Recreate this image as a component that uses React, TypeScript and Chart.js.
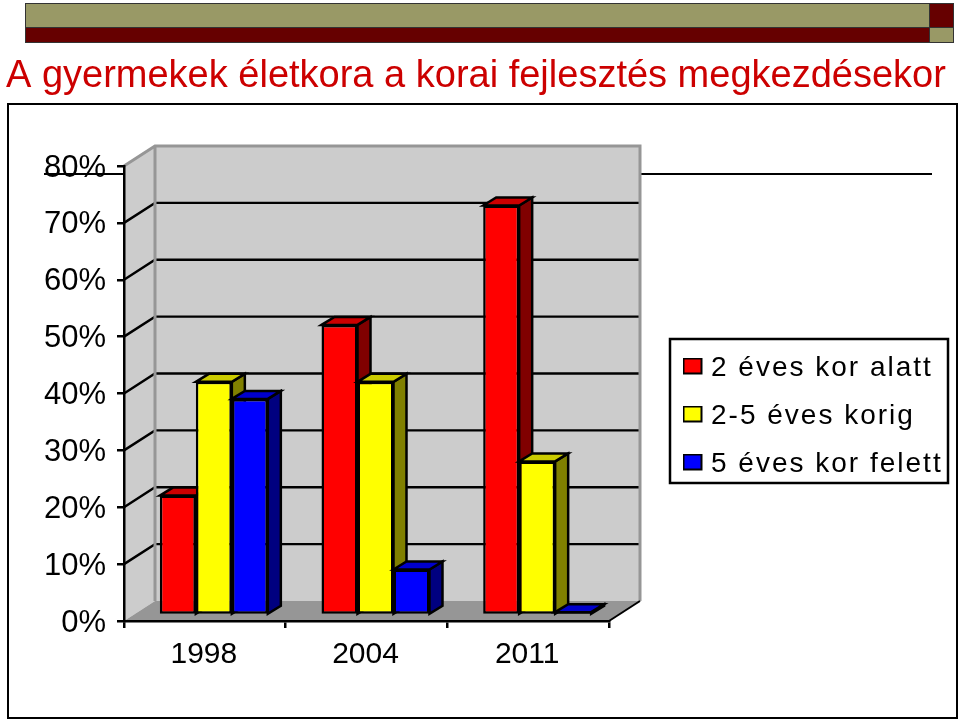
import React, { useEffect, useRef } from "react";
import { Chart, registerables } from "chart.js";

Chart.register(...registerables);

const titleText = "A gyermekek életkora a korai fejlesztés megkezdésekor";
const categories = ["1998", "2004", "2011"];
const under2 = [21, 51, 72];
const from2to5 = [41, 41, 27];
const over5 = [38, 8, 0.5];
const seriesNames = ["2 éves kor alatt", "2-5 éves korig", "5 éves kor felett"];
const yTicksMax = 80;
const yTickStep = 10;

const fontFamily = "'Liberation Sans', Arial, sans-serif";
const frontColors = ["#ff0000", "#ffff00", "#0000ff"];
const sideColors = ["#800000", "#808000", "#000080"];
const topColors = ["#cc0000", "#cccc00", "#0000cc"];

// 3D geometry, in pixels
const wallDx = 31;
const wallDy = 20;
const barShiftX = 9;
const barShiftY = 6;
const barDx = 13;
const barDy = 8;

function poly(ctx: CanvasRenderingContext2D, pts: number[][], fill: string | null, stroke: string | null, lw = 2.5) {
  ctx.beginPath();
  pts.forEach((p, i) => (i ? ctx.lineTo(p[0], p[1]) : ctx.moveTo(p[0], p[1])));
  ctx.closePath();
  if (fill) {
    ctx.fillStyle = fill;
    ctx.fill();
  }
  if (stroke) {
    ctx.strokeStyle = stroke;
    ctx.lineWidth = lw;
    ctx.lineJoin = "miter";
    ctx.stroke();
  }
}

function swatch(color: string) {
  const c = document.createElement("canvas");
  c.width = 22;
  c.height = 21;
  const g = c.getContext("2d")!;
  g.fillStyle = color;
  g.fillRect(1, 1, 18, 15);
  g.strokeStyle = "#000";
  g.lineWidth = 2;
  g.strokeRect(1, 1, 18, 15);
  return c;
}

const layoutPlugin = {
  id: "placeBoxes",
  beforeLayout(chart: any) {
    const l = chart.legend;
    if (l && !l.__fitWrapped) {
      l.__fitWrapped = true;
      const origFit = l.fit.bind(l);
      l.fit = () => {
        origFit();
        l.width = 351;
      };
      const orig = l.draw.bind(l);
      l.draw = () => {
        const ctx = chart.ctx;
        ctx.save();
        (ctx as any).letterSpacing = "2px";
        orig();
        ctx.restore();
      };
    }
  },
  afterLayout(chart: any) {
    const t = chart.titleBlock;
    if (t) {
      t.left = 6;
      t.right = 955;
    }
    const l = chart.legend;
    if (l) {
      l.left = 670;
      l.right = 948;
      l.top = 334;
      l.bottom = 560;
    }
  },
};

const stagePlugin = {
  id: "stage3d",
  beforeDraw(chart: any) {
    const ctx: CanvasRenderingContext2D = chart.ctx;
    const { left, right } = chart.chartArea;
    const y = chart.scales.y;
    const y0 = y.getPixelForValue(0);
    const yTop = y.getPixelForValue(yTicksMax);
    ctx.save();
    // back wall, left wall, floor
    poly(ctx, [[left + wallDx, yTop - wallDy], [right + wallDx, yTop - wallDy], [right + wallDx, y0 - wallDy], [left + wallDx, y0 - wallDy]], "#cccccc", null);
    poly(ctx, [[left, yTop], [left + wallDx, yTop - wallDy], [left + wallDx, y0 - wallDy], [left, y0]], "#cccccc", null);
    poly(ctx, [[left, y0], [left + wallDx, y0 - wallDy], [right + wallDx, y0 - wallDy], [right, y0]], "#969696", null);
    // grid lines over the walls
    ctx.strokeStyle = "#000";
    ctx.lineWidth = 2.4;
    for (let v = yTickStep; v < yTicksMax; v += yTickStep) {
      const py = y.getPixelForValue(v);
      ctx.beginPath();
      ctx.moveTo(left, py);
      ctx.lineTo(left + wallDx, py - wallDy);
      ctx.lineTo(right + wallDx, py - wallDy);
      ctx.stroke();
    }
    // wall edges
    ctx.strokeStyle = "#969696";
    ctx.lineWidth = 3;
    ctx.beginPath();
    ctx.moveTo(left, yTop);
    ctx.lineTo(left + wallDx, yTop - wallDy);
    ctx.lineTo(right + wallDx, yTop - wallDy);
    ctx.lineTo(right + wallDx, y0 - wallDy);
    ctx.moveTo(left + wallDx, yTop - wallDy);
    ctx.lineTo(left + wallDx, y0 - wallDy);
    ctx.stroke();
    // outer floor edge on the right
    ctx.strokeStyle = "#000";
    ctx.lineWidth = 2;
    ctx.beginPath();
    ctx.moveTo(right, y0);
    ctx.lineTo(right + wallDx, y0 - wallDy);
    ctx.stroke();
    // legend frame
    ctx.fillStyle = "#fff";
    ctx.fillRect(670, 339, 278, 144);
    ctx.strokeStyle = "#000";
    ctx.lineWidth = 2.5;
    ctx.strokeRect(670, 339, 278, 144);
    ctx.restore();
  },
  beforeDatasetsDraw(chart: any) {
    const ctx: CanvasRenderingContext2D = chart.ctx;
    ctx.save();
    ctx.translate(barShiftX, barShiftY * -1);
    categories.forEach((_, i) => {
      chart.data.datasets.forEach((_d: any, d: number) => {
        const bar = chart.getDatasetMeta(d).data[i];
        const { x, y, width, base } = bar.getProps(["x", "y", "width", "base"], true);
        const l = x - width / 2;
        const r = x + width / 2;
        poly(ctx, [[r, y], [r + barDx, y - barDy], [r + barDx, base - barDy], [r, base]], sideColors[d], "#000");
        poly(ctx, [[l, y], [l + barDx, y - barDy], [r + barDx, y - barDy], [r, y]], topColors[d], "#000");
        bar.draw(ctx);
      });
    });
    ctx.restore();
    return false;
  },
};

export default function App() {
  const ref = useRef<HTMLCanvasElement>(null);
  useEffect(() => {
    const chart = new Chart(ref.current!, {
      type: "bar",
      data: {
        labels: categories,
        datasets: [under2, from2to5, over5].map((data, i) => ({
          label: seriesNames[i],
          data,
          backgroundColor: frontColors[i],
          borderColor: "#000",
          borderWidth: 2.5,
          borderSkipped: false,
          categoryPercentage: 0.668,
          barPercentage: 1,
        })),
      },
      options: {
        responsive: false,
        animation: false,
        layout: { padding: 0 },
        plugins: {
          tooltip: { enabled: false },
          title: {
            display: true,
            text: titleText,
            align: "start",
            color: "#cc0000",
            font: { family: fontFamily, size: 38, weight: "normal", lineHeight: 1.2 },
            padding: { top: 54, bottom: 66.4 },
          },
          legend: {
            position: "right",
            align: "start",
            labels: {
              color: "#000",
              font: { family: fontFamily, size: 28 },
              usePointStyle: true,
              boxWidth: 7,
              boxHeight: 16,
              padding: 20,
              generateLabels: () =>
                seriesNames.map((text, i) => ({
                  text,
                  datasetIndex: i,
                  fontColor: "#000",
                  pointStyle: swatch(frontColors[i]),
                  lineWidth: 0,
                  strokeStyle: "#000",
                  fillStyle: frontColors[i],
                })),
            },
          },
        },
        scales: {
          x: {
            grid: { drawOnChartArea: false, drawTicks: true, tickLength: 7, tickColor: "#000", lineWidth: 2.5 },
            border: { color: "#000", width: 2.5 },
            ticks: { color: "#000", font: { family: fontFamily, size: 30 }, padding: 9, maxRotation: 0, labelOffset: -1 },
            afterFit: (s: any) => {
              s.height = 99;
            },
          },
          y: {
            min: 0,
            max: yTicksMax,
            grid: { drawOnChartArea: false, drawTicks: true, tickLength: 7, tickColor: "#000", lineWidth: 2.5 },
            border: { color: "#000", width: 2.5 },
            ticks: {
              stepSize: yTickStep,
              color: "#000",
              font: { family: fontFamily, size: 31 },
              padding: 11,
              labelOffset: 2,
              callback: (v: any) => v + "%",
            },
            afterFit: (s: any) => {
              s.width = 124;
            },
          },
        },
      },
      plugins: [layoutPlugin, stagePlugin],
    } as any);
    return () => chart.destroy();
  }, []);

  const box = (left: number, top: number, width: number, height: number, background: string): React.CSSProperties => ({
    position: "absolute",
    left,
    top,
    width,
    height,
    background,
    boxSizing: "border-box",
    border: "1px solid #333",
  });

  return (
    <div style={{ position: "fixed", left: 0, top: 0, width: 960, height: 720, background: "#fff", overflow: "hidden" }}>
      <div style={box(25, 3, 905, 25, "#999966")} />
      <div style={box(25, 27, 905, 16, "#660000")} />
      <div style={box(929, 3, 25, 25, "#660000")} />
      <div style={box(929, 27, 25, 16, "#999966")} />
      <div style={{ position: "absolute", left: 7, top: 103, width: 951, height: 616, boxSizing: "border-box", border: "2.5px solid #000" }} />
      <div style={{ position: "absolute", left: 44, top: 173, width: 888, height: 1.5, background: "#000" }} />
      <canvas ref={ref} width={960} height={720} style={{ position: "absolute", left: 0, top: 0 }} />
    </div>
  );
}
